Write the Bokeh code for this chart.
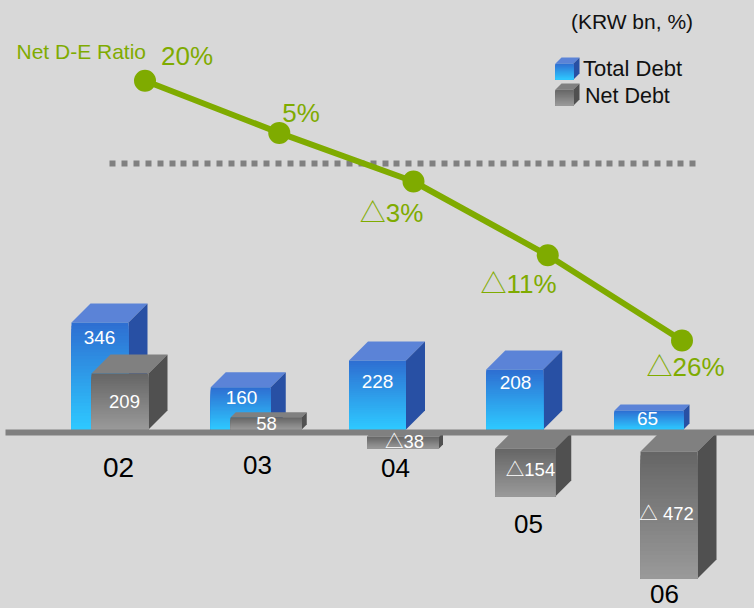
from bokeh.plotting import figure
from bokeh.models import Range1d
from bokeh.core.properties import value
from bokeh.embed import file_html
from bokeh.resources import INLINE

# --- data ---
years = ["02", "03", "04", "05", "06"]
total_debt = [346, 160, 228, 208, 65]
net_debt = [209, 58, -38, -154, -472]
net_labels = ["209", "58", "△38", "△154", "△ 472"]
ratio_labels = ["20%", "5%", "△3%", "△11%", "△26%"]
# The source bars and line are hand-drawn, not proportional: drawn heights
total_drawn = [356, 146, 233, 204, 71]
net_drawn = [191, 49, -52, -207, -472]
ratio_drawn = [13.8, 5.1, -3.0, -15.3, -29.5]

# --- layout (reference pixels) ---
BG = "#d8d8d8"
GREEN = "#7fab00"
W, H = 754, 608
X0, X_STEP = 144.5, 134.25      # pixel of year 0, pixels per year
Y0, Y_SCALE = 432.0, 0.3093     # pixel of zero, pixels per KRW bn
R0, R_SCALE = 163.0, 6.0        # pixel of 0 %, pixels per %
total_off = [-73.5, -68.5, -64.5, -61.5, -67.5]
total_w = [57, 60, 57, 57, 69]
total_d = [19, 15, 19, 19, 6]
net_off = [-53.5, -48.5, -46.5, -52.5, -41.5]
net_w = [57, 71, 72, 60, 57]
net_d = [19, 5, 4, 16, 19]
BLUE = dict(top="#2e6fd2", bottom="#2ec8ff", roof="#5b83d7", side="#2850a4")
GREY = dict(top="#666666", bottom="#999999", roof="#808080", side="#505050")


def xd(px):
    return (px - X0) / X_STEP


def yd(py):
    return (Y0 - py) / Y_SCALE


p = figure(width=W, height=H, output_backend="svg", toolbar_location=None,
           x_range=Range1d(xd(0), xd(W)), y_range=Range1d(yd(H), yd(0)),
           min_border=0, outline_line_color=None,
           background_fill_color=BG, border_fill_color=BG)
p.xaxis.visible = False
p.yaxis.visible = False
p.grid.visible = False
p.extra_y_ranges = {"ratio": Range1d((R0 - H) / R_SCALE, R0 / R_SCALE)}


def mix(a, b, t):
    ca = [int(a[k:k + 2], 16) for k in (1, 3, 5)]
    cb = [int(b[k:k + 2], 16) for k in (1, 3, 5)]
    return "#%02x%02x%02x" % tuple(round(u + (v - u) * t) for u, v in zip(ca, cb))


def cube(x, w, top, bottom, d, pal):
    """x, top, bottom in data units, w and d in pixels."""
    wu, dx, dy = w / X_STEP, d / X_STEP, d / Y_SCALE
    r = x + wu
    p.patch([x, x + dx, r + dx, r], [top, top + dy, top + dy, top],
            fill_color=pal["roof"], line_color=None)
    p.patch([r, r + dx, r + dx, r], [top, top + dy, bottom + dy, bottom],
            fill_color=pal["side"], line_color=None)
    n = 32
    tops = [top + (bottom - top) * k / n for k in range(n)]
    colors = [mix(pal["top"], pal["bottom"], k / (n - 1)) for k in range(n)]
    p.quad(left=[x] * n, right=[r] * n, top=tops, bottom=[bottom] * n,
           fill_color=colors, line_color=None)


base = 3 / Y_SCALE
for i in range(5):
    cube(i + total_off[i] / X_STEP, total_w[i], total_drawn[i], base, total_d[i], BLUE)
for i in range(5):
    if net_drawn[i] > 0:
        cube(i + net_off[i] / X_STEP, net_w[i], net_drawn[i], base, net_d[i], GREY)
    else:
        cube(i + net_off[i] / X_STEP, net_w[i], -net_d[i] / Y_SCALE, net_drawn[i], net_d[i], GREY)

# baseline
p.quad(left=[xd(5)], right=[xd(W)], top=[yd(429)], bottom=[yd(435)],
       fill_color="#808080", line_color=None)

# dotted 0 % reference and the ratio line
p.line([xd(109), xd(697)], [0, 0], y_range_name="ratio", line_color="#808080",
       line_width=6, line_dash="6 6 6 6 6 6 6 6 6 6 6 5")
xs = list(range(5))
p.line(xs, ratio_drawn, y_range_name="ratio", line_color=GREEN, line_width=6)
p.scatter(xs, ratio_drawn, y_range_name="ratio", size=22, marker="circle",
          fill_color=GREEN, line_color=None)

FONT = value("Liberation Sans, 'Noto Sans CJK KR'")


def label(txt, px, py, size, color, align="center"):
    p.text([xd(px)], [yd(py)], text=[txt], text_font=FONT, text_font_size=f"{size}px",
           text_color=color, text_align=align, text_baseline="middle")


for t, (a, b) in zip(total_debt, [(99, 337), (241, 397), (377, 381), (515, 382), (647, 418)]):
    label(str(t), a, b, 19, "white")
for t, (a, b) in zip(net_labels, [(124, 401), (266, 423), (404, 441), (530, 469), (666, 513)]):
    label(t, a, b, 18.5, "white")
for t, (a, b) in zip(years, [(118, 467), (257, 464), (395, 467), (528, 523), (664, 593)]):
    label(t, a, b, 28 if t == "02" else 26, "black")
for t, (a, b) in zip(ratio_labels, [(186.5, 55.5), (300.5, 112), (391, 212), (518, 283), (685, 366)]):
    label(t, a, b, 26, GREEN)
label("Net D-E Ratio", 16, 50.5, 21, GREEN, "left")

# legend
label("(KRW bn, %)", 631.5, 21, 21, "#111111")
cube(xd(555), 18, yd(63), yd(79), 6, BLUE)
cube(xd(555), 18, yd(89), yd(105), 6, GREY)
label("Total Debt", 582.5, 68, 22, "#111111", "left")
label("Net Debt", 584.5, 95, 21.5, "#111111", "left")

html = file_html(p, INLINE).replace("</head>", f"<style>body{{background:{BG}}}</style></head>")
open("out.html", "w").write(html)
